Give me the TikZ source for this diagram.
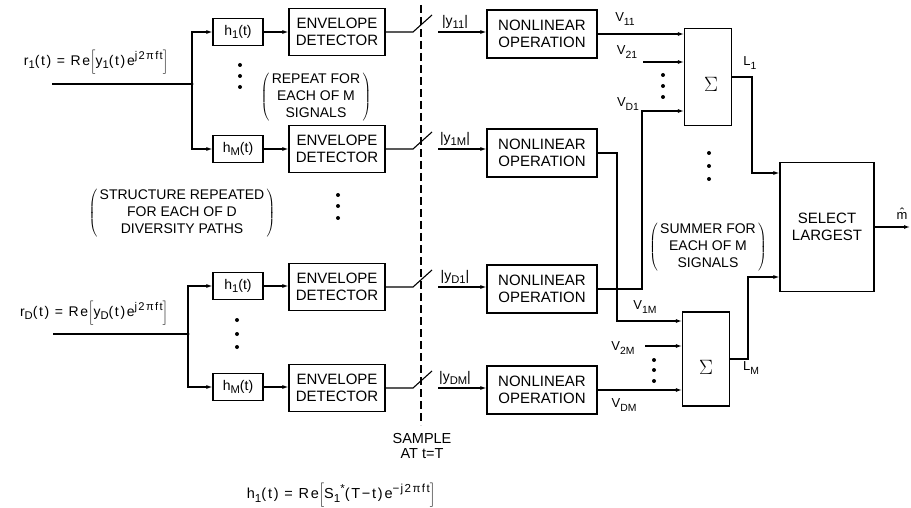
\documentclass[tikz,border=0pt]{standalone}
\usepackage{fontspec}
\setmainfont{Liberation Sans}
\newfontfamily\lettering[LetterSpace=12]{Liberation Sans}
\usepackage{tikz}
\usetikzlibrary{positioning,arrows.meta}
% lettering-style indices
\newcommand\lo[1]{\raisebox{-0.45ex}{\scalebox{0.8}{#1}}}
\newcommand\hi[1]{\raisebox{0.85ex}{\scalebox{0.8}{#1}}}

\begin{document}
\begin{tikzpicture}[
  x=1pt,y=-1pt,
  line width=1.1pt,
  font=\fontsize{14}{17}\selectfont,
  blk/.style={draw,inner sep=0,align=center,font=\fontsize{15}{17}\selectfont},
  hb/.style={blk,minimum width=50pt,minimum height=27pt,font=\fontsize{14}{17}\selectfont},
  ed/.style={blk,minimum width=96pt,minimum height=47pt},
  nl/.style={blk,minimum width=110pt,minimum height=48pt},
  sm/.style={draw,inner sep=0,minimum width=47pt,minimum height=97pt},
  lbl/.style={inner sep=0,font=\fontsize{13}{15}\selectfont},
  frm/.style={inner sep=0,font=\lettering\fontsize{14}{15}\selectfont},
  sig/.style={inner sep=0,font=\fontsize{22}{22}\selectfont},
  a/.style={-{Latex[open,length=6pt,width=4pt]}},
]
\useasboundingbox (0,0) rectangle (911,508);

% Diversity path 1
\node[frm] (rone) at (96,62) {r\lo{1}(t) = Re$\biggl[$y\lo{1}(t)e\hi{j2πft}$\biggr]$};
\coordinate (in1) at (52,84); \coordinate (j1) at (192,84);
\node[hb] (h11) at (238,32) {h\lo{1}(t)};
\node[ed] (ed11) at (337,32) {ENVELOPE\\DETECTOR};
\node[hb] (h1M) at (238,149) {h\lo{M}(t)};
\node[ed] (ed1M) at (337,149) {ENVELOPE\\DETECTOR};
\draw (in1) -- (j1);
\fill (j1) circle[radius=1.5pt];
\draw[a] (j1) |- (h11.west);
\draw[a] (j1) |- (h1M.west);
\draw[a] (h11) -- (ed11);
\draw[a] (h1M) -- (ed1M);
\foreach \y in {65,76,87} \fill (240,\y) circle[radius=2pt];
\node (rep) at (316,97) {$\left(\,\begin{tabular}{@{}c@{}}REPEAT FOR\\EACH OF M\\SIGNALS\end{tabular}\,\right)$};

% Diversity path D
\node (strc) at (182,213) {$\left(\,\begin{tabular}{@{}c@{}}STRUCTURE REPEATED\\FOR EACH OF D\\DIVERSITY PATHS\end{tabular}\,\right)$};
\foreach \y in {195,206,218} \fill (338,\y) circle[radius=2pt];
\node[frm] (rD) at (94,313) {r\lo{D}(t) = Re$\biggl[$y\lo{D}(t)e\hi{j2πft}$\biggr]$};
\coordinate (inD) at (53,334); \coordinate (jD) at (188,334);
\node[hb] (hD1) at (238,286) {h\lo{1}(t)};
\node[ed] (edD1) at (337,287) {ENVELOPE\\DETECTOR};
\node[hb] (hDM) at (238,387) {h\lo{M}(t)};
\node[ed] (edDM) at (337,388) {ENVELOPE\\DETECTOR};
\draw (inD) -- (jD);
\fill (jD) circle[radius=1.5pt];
\draw[a] (jD) |- (hD1.west);
\draw[a] (jD) |- (hDM.west);
\draw[a] (hD1.east) -- (hD1.east -| edD1.west);
\draw[a] (hDM.east) -- (hDM.east -| edDM.west);
\foreach \y in {320,334,347} \fill (237,\y) circle[radius=2pt];

% Sampling switches at t=T
\coordinate (dtop) at (421,5); \coordinate (dbot) at (421,425);
\draw[dash pattern=on 8pt off 4pt] (dtop) -- (dbot);
\node[lbl,align=center,font=\fontsize{14.5}{15}\selectfont] (samp) at (422,446) {SAMPLE\\AT t=T};
\node[nl] (nl11) at (542,34) {NONLINEAR\\OPERATION};
\node[nl] (nl1M) at (542,153) {NONLINEAR\\OPERATION};
\node[nl] (nlD1) at (542,289) {NONLINEAR\\OPERATION};
\node[nl] (nlDM) at (542,390) {NONLINEAR\\OPERATION};
\foreach \r/\y in {11/32,1M/149,D1/287,DM/388} {
  \coordinate (sa\r) at (413,\y); \coordinate (sb\r) at (438,\y);
  \draw (ed\r.east) -- (sa\r) -- ++(19,-17);
  \draw[a] (sb\r) -- (sb\r -| nl\r.west);
  \node[lbl,anchor=south,font=\fontsize{14}{15}\selectfont] (ly\r) at (455,{\y-3}) {|y\lo{\r}|};
}

% Summers
\node[sm] (sum1) at (708,77) {};
\node[sig] (sg1) at (711,84) {$\Sigma$};
\node[sm,minimum height=94pt] (sumM) at (706,359) {};
\node[sig] (sgM) at (706,367) {$\Sigma$};
\coordinate (v21) at (643,62);
\coordinate (kD1) at (642,111);
\draw[a] (nl11.east) -- (nl11.east -| sum1.west);
\draw[a] (v21) -- (v21 -| sum1.west);
\draw[a] (nlD1.east) -| (kD1) -- (kD1 -| sum1.west);
\foreach \y in {75,86,97} \fill (663,\y) circle[radius=2pt];
\node[lbl] (lv11) at (625,19) {V\lo{11}};
\node[lbl] (lv21) at (627,52) {V\lo{21}};
\node[lbl] (lvD1) at (628,104) {V\lo{D1}};
\coordinate (k1M) at (617,321);
\coordinate (v2M) at (645,346);
\draw[a] (nl1M.east) -| (k1M) -- (k1M -| sumM.west);
\draw[a] (v2M) -- (v2M -| sumM.west);
\draw[a] (nlDM.east) -- (nlDM.east -| sumM.west);
\foreach \y in {360,370,381} \fill (654,\y) circle[radius=2pt];
\node[lbl] (lv1M) at (645,307) {V\lo{1M}};
\node[lbl] (lv2M) at (623,348) {V\lo{2M}};
\node[lbl] (lvDM) at (624,405) {V\lo{DM}};
\foreach \y in {153,166,179} \fill (709,\y) circle[radius=2pt];
\node (summ) at (708,247) {$\left(\,\begin{tabular}{@{}c@{}}SUMMER FOR\\EACH OF M\\SIGNALS\end{tabular}\,\right)$};

% Decision
\node[blk,minimum width=94pt,minimum height=129pt] (sel) at (827,227) {SELECT\\LARGEST};
\coordinate (kL1) at (752,173);
\coordinate (kLM) at (748,277);
\coordinate (mh) at (910,227);
\draw[a] (sum1.east) -| (kL1) -- (kL1 -| sel.west);
\draw[a] (sumM.east) -| (kLM) -- (kLM -| sel.west);
\draw[a] (sel.east) -- (mh);
\node[lbl] (lL1) at (750,63) {L\lo{1}};
\node[lbl] (lLM) at (751,368) {L\lo{M}};
\node[lbl] (lm) at (902,214) {\^{m}};

% Matched filter
\node[frm,font=\lettering\fontsize{14.5}{16}\selectfont] (hdef) at (341,495) {h\lo{1}(t) = Re$\biggl[$S\lo{1}\hi{*}(T−t)e\hi{−j2πft}$\biggr]$};
\end{tikzpicture}
\end{document}
